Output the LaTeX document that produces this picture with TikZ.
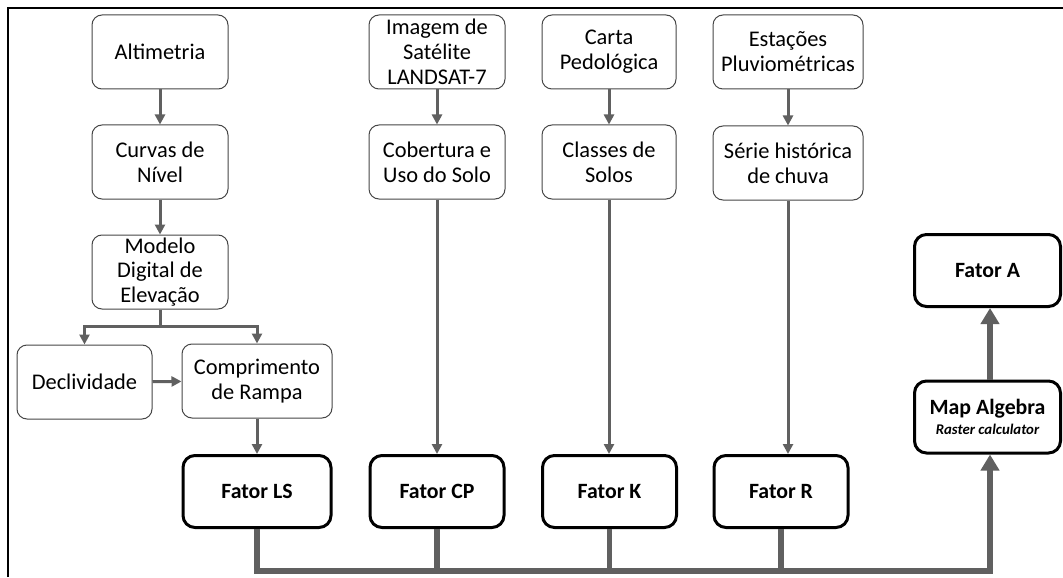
\documentclass[tikz,border=0pt]{standalone}
\usepackage{fontspec}
\setmainfont{Carlito}
\usepackage{xcolor}
\usepackage{tikz}
\usetikzlibrary{arrows.meta}
\definecolor{arrgray}{RGB}{96,96,96}
\definecolor{boxgray}{RGB}{70,70,70}

\begin{document}
\begin{tikzpicture}[x=0.5pt,y=-0.5pt,
  font=\fontsize{11.2}{12.4}\selectfont,
  box/.style={draw=boxgray,line width=0.5pt,rounded corners=5pt,fill=white,
    minimum width=68pt,minimum height=37pt,align=center,inner sep=1pt},
  fator/.style={draw=black,line width=1.5pt,rounded corners=6pt,fill=white,
    minimum width=67pt,minimum height=36pt,align=center,inner sep=1pt,
    font=\fontsize{10.9}{12.2}\selectfont\bfseries},
  arr/.style={draw=arrgray,line width=1.5pt,-{Triangle[length=5pt,width=5pt]}},
  bus/.style={draw=arrgray,line width=2.8pt},
  bigarr/.style={draw=arrgray,line width=2.8pt,-{Triangle[length=8pt,width=9pt]}}]
\useasboundingbox (0,0) rectangle (1063,577);
\draw [line width=1.2pt] (8,577) -- (8,8) -- (1063,8);

% relevo
\node[box] (alt) at (160,52) {Altimetria};
\node[box] (cur) at (160,162) {Curvas de\\N\'ivel};
\node[box] (mde) at (160,272) {Modelo\\Digital de\\Eleva\c{c}\~ao};
\node[box,minimum width=67.5pt] (dec) at (84.5,382) {Declividade};
\node[box,minimum width=75pt] (comp) at (257,381) {Comprimento\\de Rampa};

% demais entradas
\node[box] (img) at (437,52) {Imagem de\\Sat\'elite\\LANDSAT-7};
\node[box] (cob) at (437,162) {Cobertura e\\Uso do Solo};
\node[box,minimum width=67pt] (carta) at (609,52) {Carta\\Pedol\'ogica};
\node[box,minimum width=67pt] (cls) at (609,162) {Classes de\\Solos};
\node[box,minimum width=75pt] (est) at (788,52) {Esta\c{c}\~oes\\Pluviom\'etricas};
\node[box,minimum width=75pt] (ser) at (788,163) {S\'erie hist\'orica\\de chuva};

% fatores
\node[fator,minimum width=74pt] (fls) at (257,491.5) {Fator LS};
\node[fator] (fcp) at (437,491.5) {Fator CP};
\node[fator] (fk) at (609.5,491.5) {Fator K};
\node[fator] (fr) at (781,491.5) {Fator R};
\node[fator,minimum width=73pt] (map) at (987.5,417) {Map Algebra\\[-2pt]{\fontsize{7.4}{8}\selectfont\itshape Raster calculator}};
\node[fator,minimum width=73pt] (fa) at (987.5,270.5) {Fator A};

\draw[arr] (alt) -- (cur);
\draw[arr] (cur) -- (mde);
\coordinate (split) at (160,326);
\draw[arrgray,line width=1.5pt] (mde.south) -- (split);
\draw[arr] (split) -| (dec.north);
\draw[arr] (split) -| (comp.north);
\draw[arr] (dec) -- (comp);
\draw[arr] (comp) -- (fls);

\draw[arr] (img) -- (cob);
\draw[arr] (cob) -- (fcp);
\draw[arr] (carta) -- (cls);
\draw[arr] (cls.south) -- (cls.south |- fk.north);
\draw[arr] (est) -- (ser);
\draw[arr] (ser.south) -- (ser.south |- fr.north);

\coordinate (busend) at (990,571);
\draw[bus,-{Triangle[length=8pt,width=9pt]}] (fls.south) |- (busend) -- (busend |- map.south);
\draw[bus] (fcp.south) -- (fcp.south |- busend);
\draw[bus] (fk.south) -- (fk.south |- busend);
\draw[bus] (fr.south) -- (fr.south |- busend);
\draw[bigarr] (map.north -| busend) -- (busend |- fa.south);
\end{tikzpicture}
\end{document}
